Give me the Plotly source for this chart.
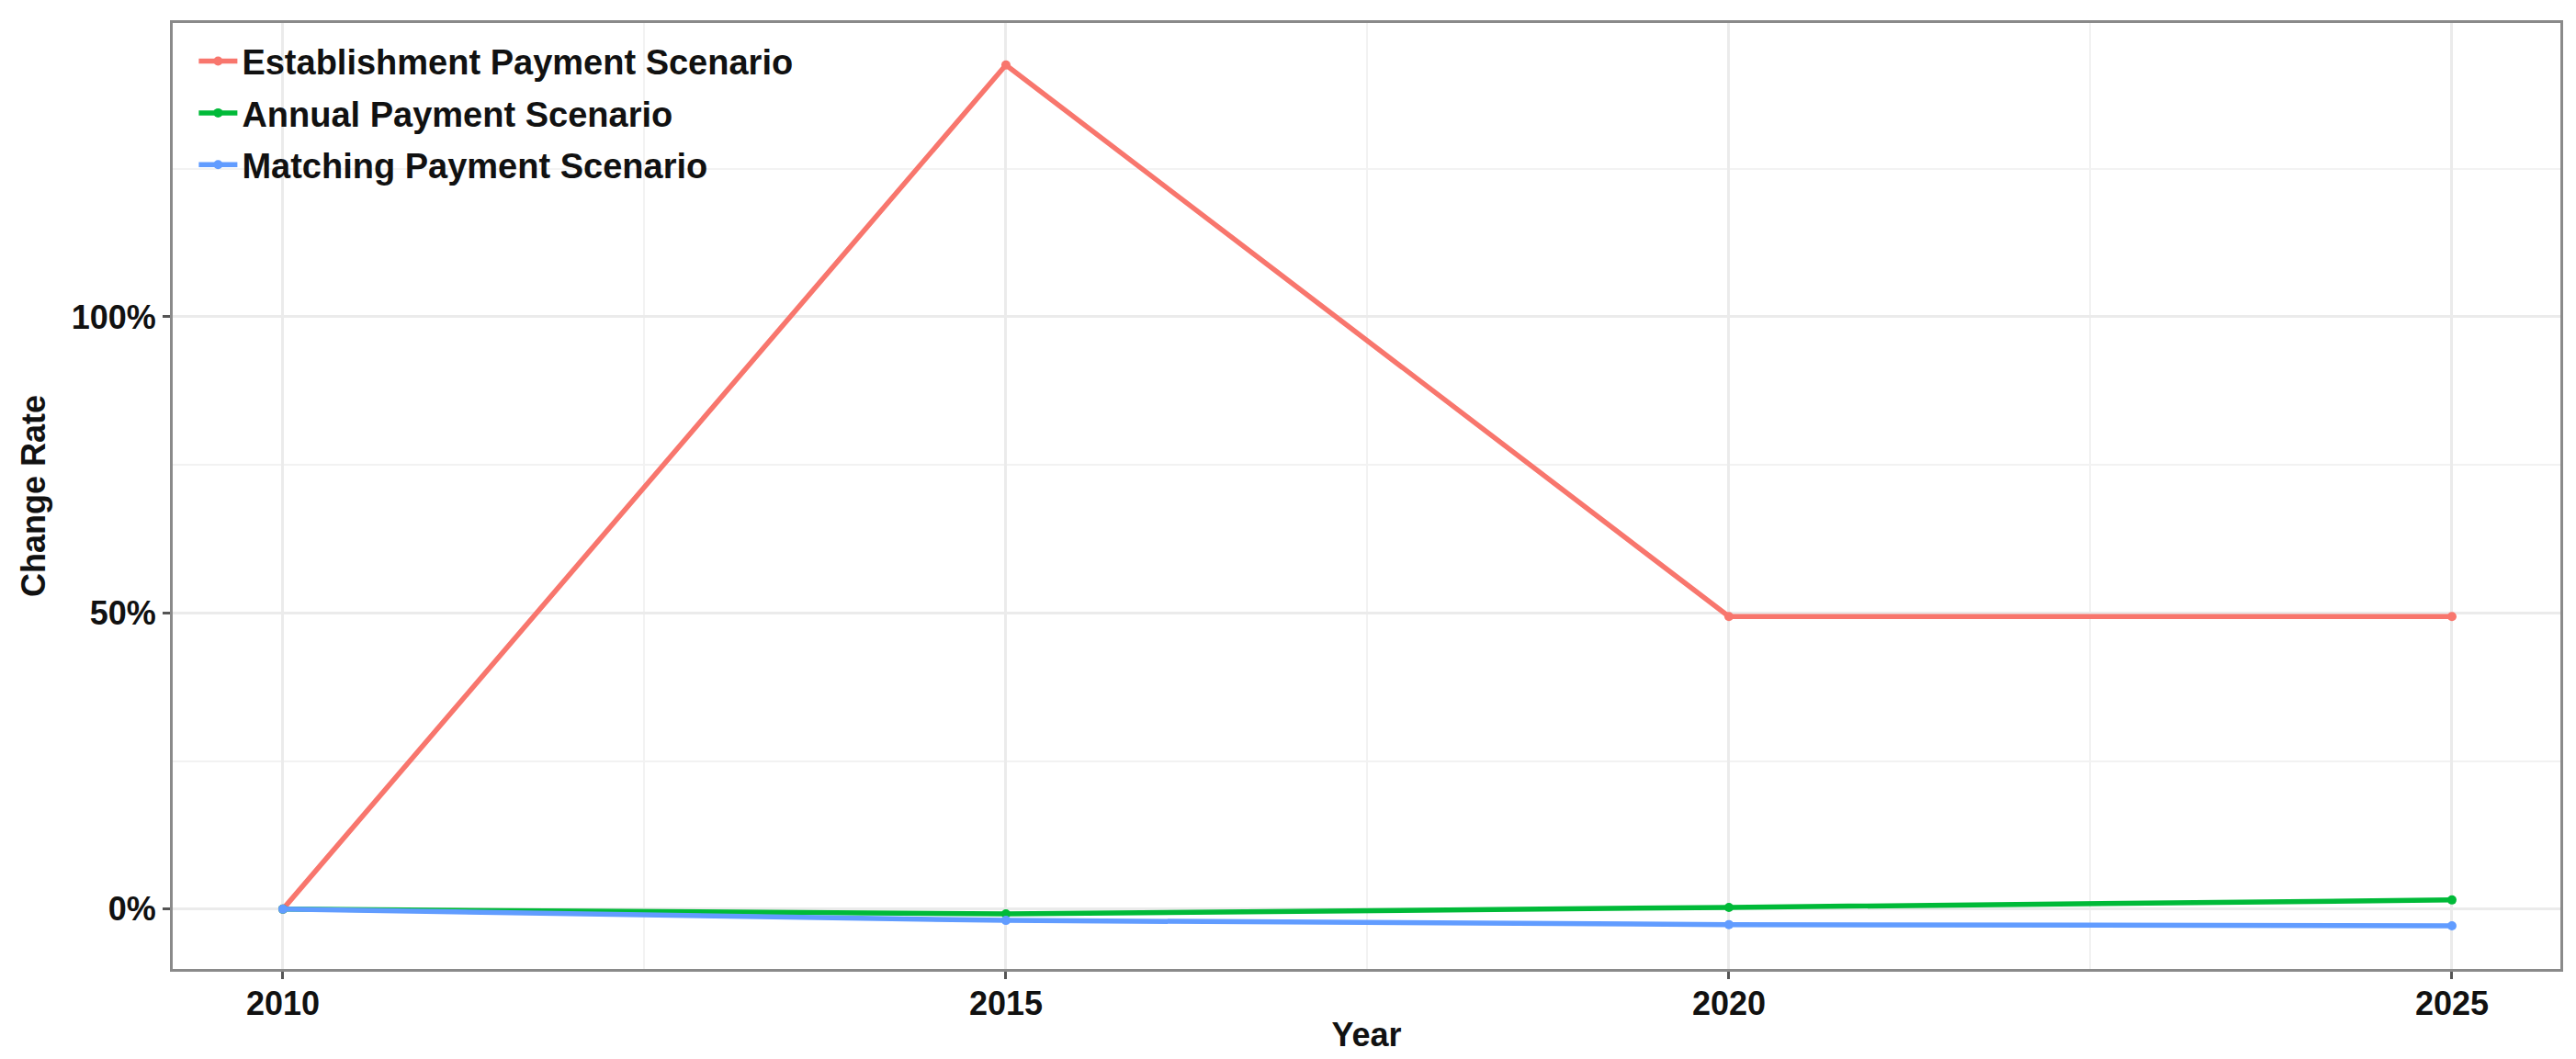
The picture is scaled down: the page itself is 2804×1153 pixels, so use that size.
import plotly.graph_objects as go

years = [2010, 2015, 2020, 2025]
establishment = [0.0, 1.425, 0.494, 0.494]
annual = [0.0, -0.008, 0.003, 0.0155]
matching = [0.0, -0.019, -0.026, -0.028]

series_names = ["Establishment Payment Scenario", "Annual Payment Scenario", "Matching Payment Scenario"]
series_values = [establishment, annual, matching]
colors = ["#F8766D", "#00BA38", "#619CFF"]

x_ticks = [2010, 2015, 2020, 2025]
y_ticks = [0.0, 0.5, 1.0]
y_tick_labels = ["0%", "50%", "100%"]

font_family = "Liberation Sans, Arial, sans-serif"

fig = go.Figure()
for i, (name, vals, col) in enumerate(zip(series_names, series_values, colors)):
    fig.add_trace(go.Scatter(
        x=years, y=vals, name=name, mode="lines+markers",
        line=dict(color=col, width=5.5),
        marker=dict(color=col, size=10),
        legendgroup=f"g{i}",
    ))

axis_common = dict(
    showline=True, mirror=True, linecolor="#8a8a8a", linewidth=3,
    ticks="outside", ticklen=8, tickwidth=2.5, tickcolor="#555555",
    showgrid=True, gridcolor="#EBEBEB", gridwidth=2.5,
    zeroline=False, automargin=False,
    tickfont=dict(family=font_family, size=36, color="#111111", weight="bold"),
)

fig.update_layout(
    width=2804, height=1153,
    margin=dict(l=180, r=25, t=17, b=106),
    paper_bgcolor="white", plot_bgcolor="white",
    font=dict(family=font_family, color="#111111"),
    showlegend=True,
    legend=dict(
        x=0.009, y=0.99, xanchor="left", yanchor="top",
        bgcolor="rgba(255,255,255,0)",
        font=dict(family=font_family, size=38, color="#111111", weight="bold"),
        tracegroupgap=4,
        itemwidth=42,
    ),
    xaxis=dict(
        **axis_common,
        range=[2009.238, 2025.75],
        tickmode="array", tickvals=x_ticks, ticktext=[str(v) for v in x_ticks],
        ticklabelstandoff=-4,
        minor=dict(tickmode="array", tickvals=[2012.5, 2017.5, 2022.5], showgrid=True,
                   gridcolor="#F2F2F2", gridwidth=1.5, ticks=""),
        title=dict(text="Year", font=dict(family=font_family, size=36, color="#111111", weight="bold"), standoff=2),
    ),
    yaxis=dict(
        **axis_common,
        range=[-0.101, 1.496],
        tickmode="array", tickvals=y_ticks, ticktext=y_tick_labels,
        minor=dict(tickmode="array", tickvals=[0.25, 0.75, 1.25], showgrid=True,
                   gridcolor="#F2F2F2", gridwidth=1.5, ticks=""),
        title=dict(text="Change Rate", font=dict(family=font_family, size=36, color="#111111", weight="bold"), standoff=18),
    ),
)

fig.write_html("out.html")
